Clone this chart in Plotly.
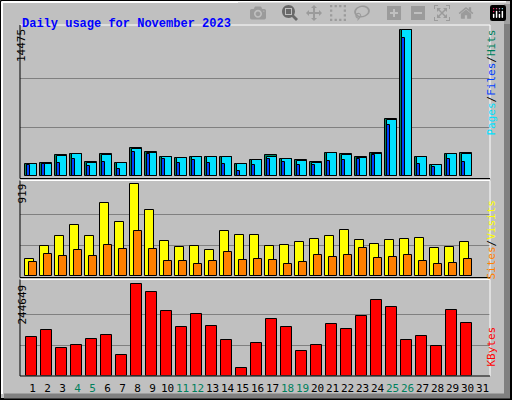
import plotly.graph_objects as go

days = list(range(1, 31))
hits = [1151,1250,2040,2138,1349,2138,1250,2731,2336,1842,1744,1842,1842,1842,1151,1546,2040,1645,1546,1349,2237,2138,1842,2237,5626,14475,1842,1053,2138,2237]
files = [1151,1151,1941,2138,1250,2040,1250,2632,2237,1842,1744,1842,1842,1842,1151,1546,1842,1645,1448,1250,2237,2040,1744,2138,5527,14475,1842,1053,2138,2138]
pages = [1053,1151,1250,1645,954,1349,658,2336,2138,1645,1250,1546,1250,1151,461,1053,1645,1349,1053,1053,1448,1546,1645,2040,5001,13588,1151,855,1645,1349]
visits = [170,300,400,509,400,729,539,919,659,350,290,300,260,450,410,410,300,310,340,370,400,460,360,320,360,370,380,280,290,340]
sites = [140,220,200,260,200,310,270,450,270,150,150,120,150,240,160,170,160,120,140,210,190,210,280,180,190,210,150,120,130,170]
kbytes = [102000,121000,75000,81000,97000,108000,56000,244649,223000,172000,129000,164000,134000,94000,19000,86000,151000,129000,67000,83000,137000,124000,159000,202000,183000,94000,105000,78000,175000,140000]
weekend = [4,5,11,12,18,19,25,26]
label_days = list(range(1, 32))

W, H = 512, 400
fig = go.Figure()
line = dict(color="black", width=1)

def bar(y, off, wid, color, ax):
    fig.add_trace(go.Bar(x=days, y=y, offset=off, width=wid, marker=dict(color=color, line=line),
                         xaxis="x" + ax if ax != "1" else "x", yaxis="y" + ax if ax != "1" else "y",
                         showlegend=False, hoverinfo="skip"))

bar(hits, 0, 0.8, "#00805c", "1")
bar(files, 0.133, 0.667, "#00e0ff", "1")
bar(pages, 0.133, 0.2, "#0040ff", "1")
bar(visits, 0, 0.6, "#ffff00", "2")
bar(sites, 0.29, 0.49, "#ff8000", "2")
bar(kbytes, 0.09, 0.69, "#ff0000", "3")

def py(p):
    return 1 - p / H

xr = [0.667, 32.0]
xd = [20 / W, 490 / W]
ticktext = [("<span style='color:#00805c'>%d</span>" % d) if d in weekend else str(d) for d in label_days]
common_x = dict(range=xr, domain=xd, showgrid=False, zeroline=False, showline=False)
fig.update_layout(
    width=W, height=H, margin=dict(l=0, r=0, t=0, b=0),
    paper_bgcolor="#c0c0c0", plot_bgcolor="#c0c0c0", bargap=0,
    font=dict(family="DejaVu Sans Mono", size=11, color="black"),
    xaxis=dict(common_x, anchor="y", showticklabels=False, ticks=""),
    xaxis2=dict(common_x, anchor="y2", showticklabels=False, ticks=""),
    xaxis3=dict(common_x, anchor="y3", tickvals=[d + 0.5 for d in label_days], ticktext=ticktext,
                ticks="", tickangle=0, ticklabelstandoff=4,
                tickfont=dict(size=11, family="DejaVu Sans Mono")),
    yaxis=dict(domain=[py(178), py(25)], range=[-198, 14920], tickvals=[4825, 9650],
               showticklabels=False, gridcolor="#808080", zeroline=False),
    yaxis2=dict(domain=[py(277), py(180)], range=[-7, 962], tickvals=[306, 613],
                showticklabels=False, gridcolor="#808080", zeroline=False),
    yaxis3=dict(domain=[py(375.5), py(280)], range=[0, 256200], tickvals=[81550, 163100],
                showticklabels=False, gridcolor="#808080", zeroline=False),
)

shapes = []
def pl(x0, y0, x1, y1, c, w=1):
    shapes.append(dict(type="line", xref="paper", yref="paper", x0=x0 / W, y0=py(y0), x1=x1 / W, y1=py(y1),
                       line=dict(color=c, width=w)))
pl(0.5, 0.5, 511.5, 0.5, "black"); pl(0.5, 0.5, 0.5, 399.5, "black")
pl(511, 0, 511, 400, "black", 2); pl(0, 399, 512, 399, "black", 2)
pl(2, 2, 506, 2, "white", 2); pl(2, 2, 2, 394, "white", 2)
pl(507, 4, 507, 395, "#808080", 6); pl(4, 396, 510, 396, "#808080", 5)
for top, bot in [(25, 178.5), (180.5, 277.5), (279.5, 376)]:
    pl(20, top, 490, top, "white"); pl(490, top, 490, bot, "white")
    pl(20, top, 20, bot, "black"); pl(20, bot, 490, bot, "black")
fig.update_layout(shapes=shapes)

ann = [
    dict(x=20 / W, y=py(15), text="<b>Daily usage for November 2023</b>", showarrow=False, xanchor="left",
         font=dict(family="Liberation Mono", size=12, color="#0000ff")),
    dict(x=13 / W, y=py(27), text="14475", textangle=-90, yanchor="top", showarrow=False),
    dict(x=13 / W, y=py(182), text="919", textangle=-90, yanchor="top", showarrow=False),
    dict(x=13 / W, y=py(283), text="244649", textangle=-90, yanchor="top", showarrow=False),
    dict(x=499 / W, y=py(28), yanchor="top", textangle=-90, showarrow=False,
         text="<span style='color:#00e0ff'>Pages</span><span style='color:black'>/</span>"
              "<span style='color:#0040ff'>Files</span><span style='color:black'>/</span>"
              "<span style='color:#00805c'>Hits</span>"),
    dict(x=499 / W, y=py(198), yanchor="top", textangle=-90, showarrow=False,
         text="<span style='color:#ff8000'>Sites</span><span style='color:black'>/</span>"
              "<span style='color:#ffff00'>Visits</span>"),
    dict(x=499 / W, y=py(369), yanchor="bottom", textangle=-90, showarrow=False,
         text="<span style='color:#ff0000'>KBytes</span>"),
]
for a in ann:
    a.setdefault("xref", "paper"); a["yref"] = "paper"
fig.update_layout(annotations=ann)
fig.write_html("out.html", post_script="document.body.style.margin='0';document.body.style.overflow='hidden';")
